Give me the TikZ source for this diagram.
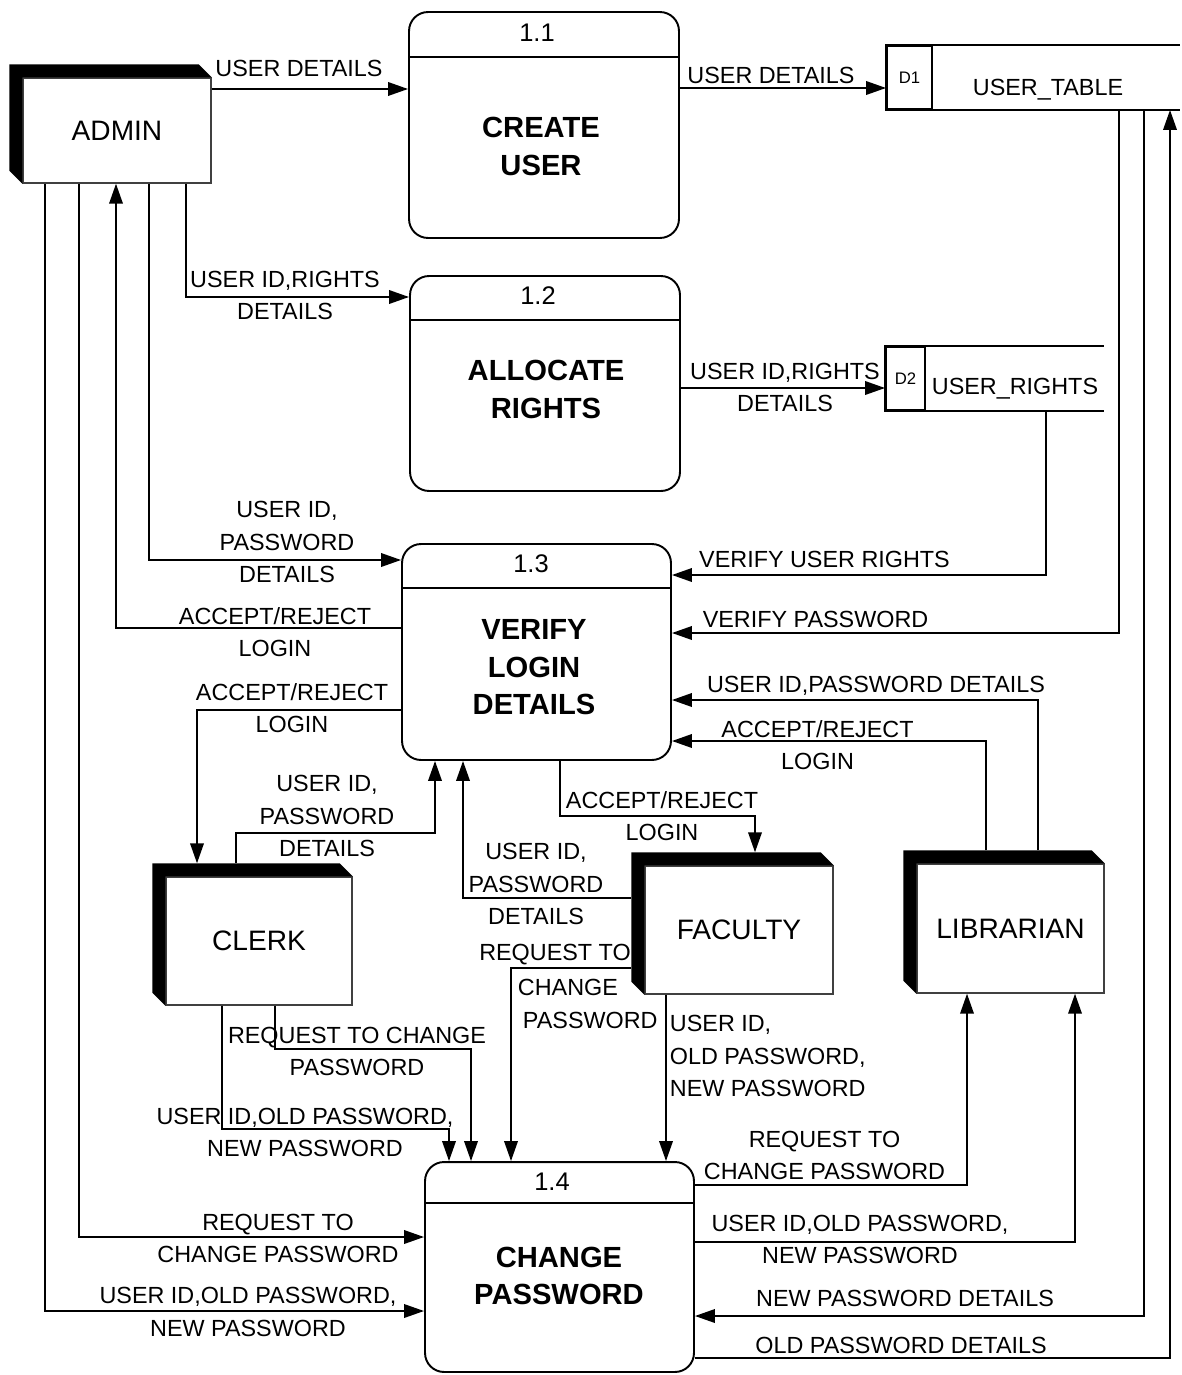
\documentclass[tikz,border=0pt]{standalone}
\usepackage{fontspec}
\setmainfont{Liberation Sans}
\usetikzlibrary{arrows.meta}

\begin{document}
\begin{tikzpicture}[x=0.02cm,y=-0.02cm,>={Triangle[length=0.4cm,width=0.27cm]},line width=1.1pt]
  \tikzstyle{proc}=[rectangle, draw, rounded corners=0.38cm, minimum width=5.4cm]
  \tikzstyle{ptitle}=[inner sep=0pt, align=center, font=\bfseries\fontsize{16.6}{21.3}\selectfont]
  \tikzstyle{pnum}=[inner sep=0pt, font=\fontsize{14.5}{17}\selectfont]
  \tikzstyle{ent}=[rectangle, draw=black!75, line width=0.8pt, fill=white, font=\fontsize{16}{19}\selectfont]
  \tikzstyle{store}=[rectangle, minimum height=1.26cm, inner sep=0pt]
  \tikzstyle{storeid}=[rectangle, draw, minimum height=1.26cm, inner sep=0pt, font=\fontsize{9.5}{11}\selectfont]
  \tikzstyle{lbl}=[inner sep=0pt, align=center, font=\fontsize{13.3}{18.5}\selectfont]
  \useasboundingbox (0,0) rectangle (1181,1375);

  % processes
  \node[proc, minimum height=4.52cm] (p11) at (544,125) {};
  \node[proc, minimum height=4.3cm] (p12) at (545,383.5) {};
  \node[proc, minimum height=4.32cm, minimum width=5.38cm] (p13) at (536.5,652) {};
  \node[proc, minimum height=4.2cm, minimum width=5.38cm] (p14) at (559.5,1267) {};
  \draw (p11.west |- 0,57) -- (p11.east |- 0,57);
  \draw (p12.west |- 0,320) -- (p12.east |- 0,320);
  \draw (p13.west |- 0,588) -- (p13.east |- 0,588);
  \draw (p14.west |- 0,1203) -- (p14.east |- 0,1203);
  \node[pnum] (n11) at (537,33) {1.1};
  \node[pnum] (n12) at (538,296) {1.2};
  \node[pnum] (n13) at (531,564) {1.3};
  \node[pnum] (n14) at (552,1182) {1.4};
  \node[ptitle] (t11) at (541,146.5) {CREATE\\USER};
  \node[ptitle] (t12) at (546,389.5) {ALLOCATE\\RIGHTS};
  \node[ptitle] (t13) at (534,667.5) {VERIFY\\LOGIN\\DETAILS};
  \node[ptitle] (t14) at (559,1276) {CHANGE\\PASSWORD};

  % external entities
  \node[ent, minimum width=3.76cm, minimum height=2.1cm] (admin) at (117,130.5) {ADMIN};
  \node[ent, minimum width=3.72cm, minimum height=2.56cm] (clerk) at (259,941) {CLERK};
  \node[ent, minimum width=3.76cm, minimum height=2.56cm] (faculty) at (739,930) {FACULTY};
  \node[ent, minimum width=3.74cm, minimum height=2.58cm] (librarian) at (1010.5,928.5) {LIBRARIAN};
  \foreach \e in {admin,clerk,faculty,librarian}
    \fill (\e.south west) -- ([shift={(-13,-13)}]\e.south west) -- ([shift={(-13,-13)}]\e.north west)
      -- ([shift={(-13,-13)}]\e.north east) -- (\e.north east) -- (\e.north west) -- cycle;

  % data stores
  \node[store, minimum width=5.84cm] (d1) at (1033,77.5) {};
  \node[store, minimum width=4.34cm] (d2) at (994.5,378.5) {};
  \draw (d1.north east) -- (d1.north west) -- (d1.south west) -- (d1.south east);
  \draw (d2.north east) -- (d2.north west) -- (d2.south west) -- (d2.south east);
  \node[storeid, minimum width=0.9cm, anchor=north west] (d1id) at (d1.north west) {D1};
  \node[storeid, minimum width=0.78cm, anchor=north west] (d2id) at (d2.north west) {D2};
  \node[lbl] (d1name) at (1048,90) {USER\_TABLE};
  \node[lbl] (d2name) at (1015,389) {USER\_RIGHTS};

  % flows
  \draw[->] (admin.east |- 0,89) -- (p11.west |- 0,89);
  \draw[->] (p11.east |- 0,88) -- (d1.west |- 0,88);
  \draw[->] (admin.south -| 186,0) |- (p12.west |- 0,297);
  \draw[->] (admin.south -| 149,0) |- (p13.west |- 0,560);
  \draw[->] (p13.west |- 0,628) -| (admin.south -| 116,0);
  \draw[->] (admin.south -| 79,0) |- (p14.west |- 0,1237);
  \draw[->] (admin.south -| 45,0) |- (p14.west |- 0,1311);
  \draw[->] (p12.east |- 0,388) -- (d2.west |- 0,388);
  \draw[->] (d2.south -| 1046,0) |- (p13.east |- 0,575);
  \draw[->] (d1.south -| 1119,0) |- (p13.east |- 0,633);
  \draw[->] (d1.south -| 1144,0) |- (p14.east |- 0,1316);
  \draw[->] (p14.east |- 0,1358) -| (d1.south -| 1170,0);
  \draw[->] ([yshift=0.26cm]librarian.north -| 1038,0) |- (p13.east |- 0,700);
  \draw[->] ([yshift=0.26cm]librarian.north -| 986,0) |- (p13.east |- 0,741);
  \draw[->] (p13.west |- 0,710) -| ([yshift=0.26cm]clerk.north -| 197,0);
  \draw[->] ([yshift=0.26cm]clerk.north -| 236,0) -- ++(0,-30) -| (p13.south -| 435,0);
  \draw[->] (p13.south -| 560,0) -- ++(0,55) -| ([yshift=0.26cm]faculty.north -| 755,0);
  \draw[->] ([xshift=-0.26cm]faculty.west |- 0,898) -| (p13.south -| 463,0);
  \draw[->] ([xshift=-0.26cm]faculty.west |- 0,968) -| (p14.north -| 511,0);
  \draw[->] (faculty.south -| 666,0) -- (p14.north -| 666,0);
  \draw[->] (clerk.south -| 222,0) -- ++(0,123) -| (p14.north -| 449,0);
  \draw[->] (clerk.south -| 275,0) -- ++(0,43) -| (p14.north -| 471,0);
  \draw[->] (p14.east |- 0,1185) -| (librarian.south -| 967,0);
  \draw[->] (p14.east |- 0,1242) -| (librarian.south -| 1075,0);

  % flow labels
  \node[lbl] (l1) at (299,68) {USER DETAILS};
  \node[lbl] (l2) at (771,75) {USER DETAILS};
  \node[lbl] (l3) at (285,295.5) {USER ID,RIGHTS\\DETAILS};
  \node[lbl] (l4) at (287,542) {USER ID,\\PASSWORD\\DETAILS};
  \node[lbl] (l5) at (275,632) {ACCEPT/REJECT\\LOGIN};
  \node[lbl] (l6) at (292,708) {ACCEPT/REJECT\\LOGIN};
  \node[lbl] (l7) at (327,816) {USER ID,\\PASSWORD\\DETAILS};
  \node[lbl] (l8) at (662,816) {ACCEPT/REJECT\\LOGIN};
  \node[lbl] (l9) at (536,884) {USER ID,\\PASSWORD\\DETAILS};
  \node[lbl] (l10) at (555,955) {REQUEST TO};
  \node[lbl, anchor=west, align=left] (l10b) at (517,1004) {CHANGE\\\hspace{0.1cm}PASSWORD};
  \node[lbl, anchor=west, align=left] (l11) at (669,1056) {USER ID,\\OLD PASSWORD,\\NEW PASSWORD};
  \node[lbl] (l12) at (357,1051.5) {REQUEST TO CHANGE\\PASSWORD};
  \node[lbl] (l13) at (305,1132.5) {USER ID,OLD PASSWORD,\\NEW PASSWORD};
  \node[lbl] (l14) at (278,1238.5) {REQUEST TO\\CHANGE PASSWORD};
  \node[lbl] (l15) at (248,1312) {USER ID,OLD PASSWORD,\\NEW PASSWORD};
  \node[lbl] (l16) at (785,387.5) {USER ID,RIGHTS\\DETAILS};
  \node[lbl] (l17) at (824.5,559) {VERIFY USER RIGHTS};
  \node[lbl] (l18) at (815.5,619) {VERIFY PASSWORD};
  \node[lbl] (l19) at (876,686) {USER ID,PASSWORD DETAILS};
  \node[lbl] (l20) at (817.5,745) {ACCEPT/REJECT\\LOGIN};
  \node[lbl] (l21) at (824.5,1155.5) {REQUEST TO\\CHANGE PASSWORD};
  \node[lbl] (l22) at (860,1239.5) {USER ID,OLD PASSWORD,\\NEW PASSWORD};
  \node[lbl] (l23) at (905,1298) {NEW PASSWORD DETAILS};
  \node[lbl] (l24) at (901,1345) {OLD PASSWORD DETAILS};
\end{tikzpicture}
\end{document}
